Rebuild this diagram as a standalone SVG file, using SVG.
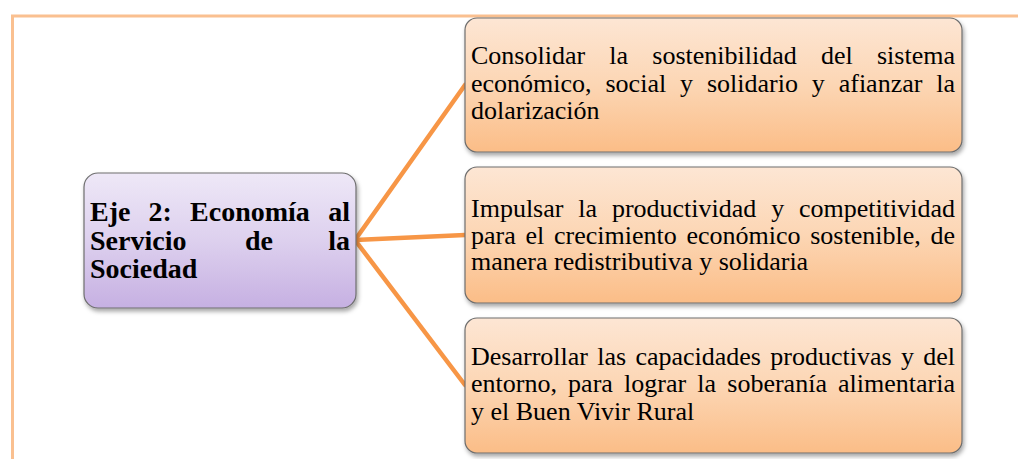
<svg xmlns="http://www.w3.org/2000/svg" width="1018" height="459" viewBox="0 0 1018 459">
<defs>
<linearGradient id="gOr" x1="0" y1="0" x2="0" y2="1">
<stop offset="0" stop-color="#fde6d4"/>
<stop offset="0.5" stop-color="#fcd6b4"/>
<stop offset="1" stop-color="#fbbd87"/>
</linearGradient>
<linearGradient id="gPu" x1="0" y1="0" x2="0" y2="1">
<stop offset="0" stop-color="#eee8f7"/>
<stop offset="0.5" stop-color="#ddd0ee"/>
<stop offset="1" stop-color="#c6b0e2"/>
</linearGradient>
<filter id="sh" x="-5%" y="-5%" width="112%" height="120%">
<feDropShadow dx="1.5" dy="3" stdDeviation="2" flood-color="#000" flood-opacity="0.35"/>
</filter>
</defs>
<style>
.box{stroke:#6e6e6e;stroke-width:1.2;filter:url(#sh)}
.or{fill:url(#gOr)}
.pu{fill:url(#gPu)}
.t{font-size:26px;fill:#000}
.b{font-size:28px;font-weight:bold;fill:#000}
.con{stroke:#f79646;stroke-width:4.5;fill:none;stroke-linecap:round}
.frame{stroke:#fac090;stroke-width:3;fill:none}
</style>
<rect width="1018" height="459" fill="#fff"/>
<path class="frame" d="M12.5,461 V16 H1020"/>
<g id="connectors">
<line class="con" x1="355" y1="240" x2="465" y2="85"/>
<line class="con" x1="355" y1="240" x2="465" y2="235"/>
<line class="con" x1="355" y1="240" x2="465" y2="385"/>
</g>
<g id="node-eje" font-family="Liberation Serif">
<rect class="box pu" x="84" y="173" width="272" height="135" rx="14"/>
<text class="b" font-family="Liberation Serif" y="221"><tspan x="90">Eje</tspan><tspan x="148.6">2:</tspan><tspan x="190.1">Economía</tspan><tspan x="350" text-anchor="end">al</tspan></text>
<text class="b" font-family="Liberation Serif" y="249.5"><tspan x="90">Servicio</tspan><tspan x="245">de</tspan><tspan x="350" text-anchor="end">la</tspan></text>
<text class="b" font-family="Liberation Serif" x="90" y="278">Sociedad</text>
</g>
<g id="node-1" font-family="Liberation Serif">
<rect class="box or" x="465" y="18" width="497" height="134" rx="12"/>
<text class="t" font-family="Liberation Serif" y="64"><tspan x="471">Consolidar</tspan><tspan x="609.3">la</tspan><tspan x="652.3">sostenibilidad</tspan><tspan x="821">del</tspan><tspan x="955" text-anchor="end">sistema</tspan></text>
<text class="t" font-family="Liberation Serif" y="91.5"><tspan x="471">económico,</tspan><tspan x="605.5">social</tspan><tspan x="680.1">y</tspan><tspan x="707">solidario</tspan><tspan x="811.8">y</tspan><tspan x="838.7">afianzar</tspan><tspan x="955" text-anchor="end">la</tspan></text>
<text class="t" font-family="Liberation Serif" x="471" y="119">dolarización</text>
</g>
<g id="node-2" font-family="Liberation Serif">
<rect class="box or" x="465" y="167" width="497" height="136" rx="12"/>
<text class="t" font-family="Liberation Serif" y="216.5"><tspan x="471">Impulsar</tspan><tspan x="578.3">la</tspan><tspan x="611.9">productividad</tspan><tspan x="771.2">y</tspan><tspan x="955" text-anchor="end">competitividad</tspan></text>
<text class="t" font-family="Liberation Serif" y="243.5"><tspan x="471">para</tspan><tspan x="525.4">el</tspan><tspan x="554">crecimiento</tspan><tspan x="686.4">económico</tspan><tspan x="810.2">sostenible,</tspan><tspan x="955" text-anchor="end">de</tspan></text>
<text class="t" font-family="Liberation Serif" x="471" y="270">manera redistributiva y solidaria</text>
</g>
<g id="node-3" font-family="Liberation Serif">
<rect class="box or" x="465" y="318" width="497" height="135" rx="12"/>
<text class="t" font-family="Liberation Serif" y="364.5"><tspan x="471">Desarrollar</tspan><tspan x="597.2">las</tspan><tspan x="635.4">capacidades</tspan><tspan x="770.3">productivas</tspan><tspan x="900.9">y</tspan><tspan x="955" text-anchor="end">del</tspan></text>
<text class="t" font-family="Liberation Serif" y="392"><tspan x="471">entorno,</tspan><tspan x="568.1">para</tspan><tspan x="624">lograr</tspan><tspan x="697.3">la</tspan><tspan x="727.3">soberanía</tspan><tspan x="955" text-anchor="end">alimentaria</tspan></text>
<text class="t" font-family="Liberation Serif" x="471" y="419.5">y el Buen Vivir Rural</text>
</g>
</svg>
